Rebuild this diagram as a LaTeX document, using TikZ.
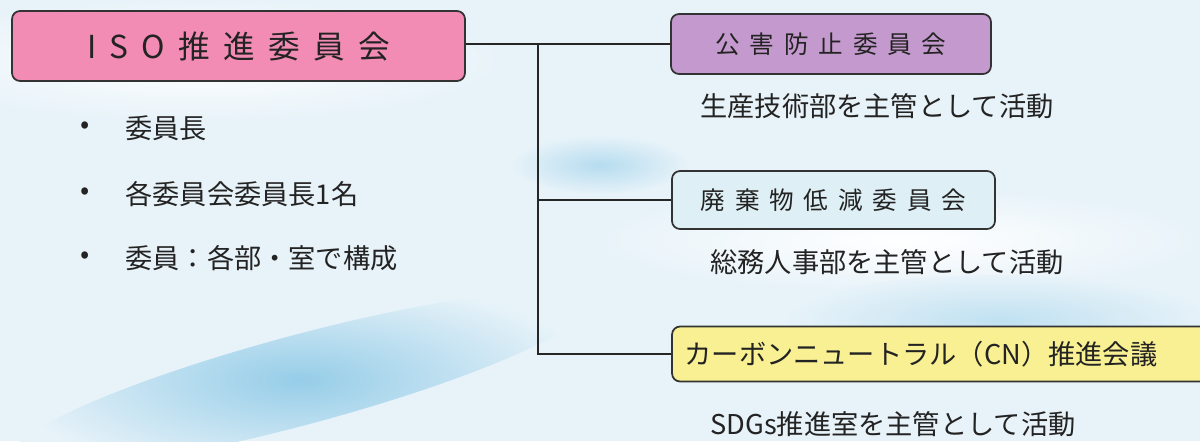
\documentclass[tikz,border=0pt]{standalone}
\usepackage{fontspec}
\setmainfont{Noto Sans CJK JP}
\newfontfamily\jpwide[LetterSpace=42]{Noto Sans CJK JP}
\newfontfamily\jpmid[LetterSpace=40]{Noto Sans CJK JP}
\definecolor{isopink}{RGB}{242,140,180}
\definecolor{pollutionlilac}{RGB}{196,154,206}
\definecolor{wasteblue}{RGB}{222,240,246}
\definecolor{cnyellow}{RGB}{248,240,146}
\definecolor{skybg}{RGB}{232,243,249}
\definecolor{skystreak}{RGB}{150,205,232}
\definecolor{textgrey}{RGB}{35,35,35}
\tikzset{
	orgbox/.style={draw=black!80, line width=1pt, rounded corners=0.16cm, inner sep=0pt, text=textgrey},
	desc/.style={anchor=west, inner sep=0pt, text=textgrey, font=\fontsize{15.5}{18}\selectfont},
	link/.style={line width=1.3pt, black!85}
}
\begin{document}
\begin{tikzpicture}[x=0.02cm,y=-0.02cm]
	\useasboundingbox (0,0) rectangle (1200,441);
	\clip (0,0) rectangle (1200,441);
	% background
	\fill[skybg] (0,0) rectangle (1200,441);
	\shade[inner color=white, outer color=skybg] (200,60) ellipse (300 and 60);
	\shade[inner color=white, outer color=skybg] (900,240) ellipse (300 and 50);
	\shade[inner color=skystreak, outer color=skybg, rotate around={15:(300,380)}] (300,380) ellipse (300 and 45);
	\shade[inner color=skystreak!70, outer color=skybg] (600,165) ellipse (90 and 30);
	\shade[inner color=skystreak!60, outer color=skybg] (1000,320) ellipse (220 and 45);
	% committees
	\node[orgbox, fill=isopink, minimum width=9.06cm, minimum height=1.4cm, font=\jpwide\fontsize{18}{20}\selectfont] (iso) at (238.5,46) {ISO推進委員会};
	\node[orgbox, fill=pollutionlilac, minimum width=6.4cm, minimum height=1.2cm, font=\jpmid\fontsize{14}{16}\selectfont] (pollution) at (831,44) {公害防止委員会};
	\node[orgbox, fill=wasteblue, minimum width=6.46cm, minimum height=1.16cm, font=\jpmid\fontsize{14}{16}\selectfont] (waste) at (833.5,200) {廃棄物低減委員会};
	\node[orgbox, fill=cnyellow, minimum width=11cm, minimum height=1.1cm, font=\fontsize{15.5}{18}\selectfont, text width=10.5cm, align=left] (cn) at (947,354) {カーボンニュートラル（CN）推進会議};
	% members
	\node[desc] (b1) at (80,128) {•};
	\node[desc] (m1) at (125,128) {委員長};
	\node[desc] (b2) at (80,194) {•};
	\node[desc] (m2) at (125,194) {各委員会委員長1名};
	\node[desc] (b3) at (80,258) {•};
	\node[desc] (m3) at (125,258) {委員：各部・室で構成};
	% lead departments
	\node[desc] (pollutionlead) at (700,106) {生産技術部を主管として活動};
	\node[desc] (wastelead) at (710,262) {総務人事部を主管として活動};
	\node[desc] (cnlead) at (710,424) {SDGs推進室を主管として活動};
	% connectors
	\coordinate (trunk) at (538,44);
	\draw[link] (iso.east |- trunk) -- (pollution.west |- trunk);
	\draw[link] (trunk) |- (waste.west);
	\draw[link] (trunk) |- (cn.west);
\end{tikzpicture}
\end{document}
